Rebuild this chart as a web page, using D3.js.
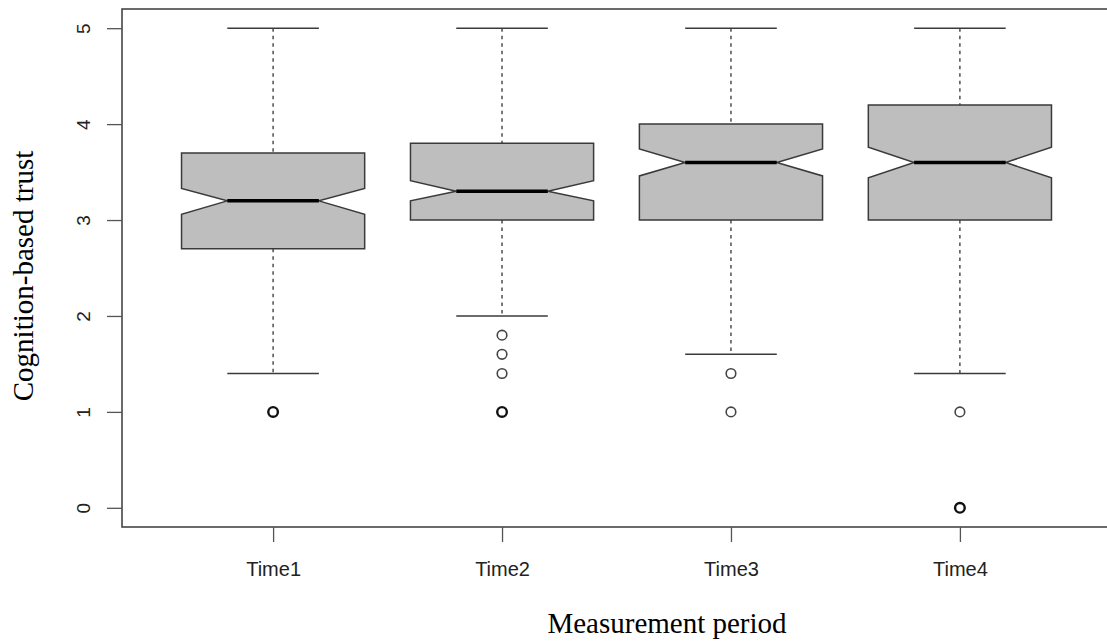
<!DOCTYPE html>
<html>
<head>
<meta charset="utf-8">
<script src="https://cdn.jsdelivr.net/npm/d3@7/dist/d3.min.js"></script>
<style>
  html, body { margin: 0; padding: 0; background: #fff; }
  svg { display: block; }
</style>
</head>
<body>
<svg id="chart" width="1107" height="643"></svg>
<script>
const categories = ["Time1", "Time2", "Time3", "Time4"];
const q1 = [2.7, 3.0, 3.0, 3.0];
const medians = [3.2, 3.3, 3.6, 3.6];
const q3 = [3.7, 3.8, 4.0, 4.2];
const notchLow = [3.06, 3.20, 3.46, 3.44];
const notchHigh = [3.33, 3.41, 3.74, 3.76];
const whiskerLow = [1.4, 2.0, 1.6, 1.4];
const whiskerHigh = [5, 5, 5, 5];
const outlierValues = [[1], [1.8, 1.6, 1.4, 1], [1.4, 1], [1, 0]];
const outlierCounts = [[3], [1, 1, 1, 3], [1, 1], [1, 3]];
const yTicks = [0, 1, 2, 3, 4, 5];

const svg = d3.select("#chart");
const x = d3.scaleLinear().domain([0.34, 4.66]).range([122, 1111]);
const y = d3.scaleLinear().domain([-0.2, 5.2]).range([527, 9]);
const lineCol = "#3a3a3a";

// plot frame
svg.append("rect")
  .attr("x", x(0.34)).attr("y", y(5.2))
  .attr("width", x(4.66) - x(0.34)).attr("height", y(-0.2) - y(5.2))
  .attr("fill", "none").attr("stroke", lineCol).attr("stroke-width", 1.5);

// y axis
const yAxis = d3.axisLeft(y).tickValues(yTicks).tickSize(15).tickFormat(d3.format("d"));
const gy = svg.append("g").attr("transform", `translate(${x(0.34)},0)`).call(yAxis);
gy.select(".domain").remove();
gy.selectAll(".tick line").attr("stroke", "#555").attr("stroke-width", 1.3);
gy.selectAll(".tick text")
  .attr("font-family", "Liberation Sans, Arial, sans-serif")
  .attr("font-size", 19).attr("fill", "#222")
  .attr("text-anchor", "middle")
  .attr("x", null)
  .attr("transform", "translate(-39,0) rotate(-90)")
  .attr("dy", "0.35em");

// x axis
const xAxis = d3.axisBottom(x).tickValues([1, 2, 3, 4]).tickSize(15).tickPadding(20)
  .tickFormat((d, i) => categories[i]);
const gx = svg.append("g").attr("transform", `translate(0,${y(-0.2)})`).call(xAxis);
gx.select(".domain").remove();
gx.selectAll(".tick line").attr("stroke", "#555").attr("stroke-width", 1.3);
gx.selectAll(".tick text")
  .attr("font-family", "Liberation Sans, Arial, sans-serif")
  .attr("font-size", 20).attr("fill", "#222");

// boxes
categories.forEach((c, i) => {
  const xc = x(i + 1);
  const hw = (x(1.4) - x(1)); // half of boxwex 0.8
  const g = svg.append("g");
  // whiskers (dashed)
  g.append("line").attr("x1", xc).attr("x2", xc).attr("y1", y(whiskerHigh[i])).attr("y2", y(q3[i]))
    .attr("stroke", "#333").attr("stroke-width", 1.3).attr("stroke-dasharray", "3.5,4");
  g.append("line").attr("x1", xc).attr("x2", xc).attr("y1", y(q1[i])).attr("y2", y(whiskerLow[i]))
    .attr("stroke", "#333").attr("stroke-width", 1.3).attr("stroke-dasharray", "3.5,4");
  // caps
  [whiskerHigh[i], whiskerLow[i]].forEach(v => {
    g.append("line").attr("x1", xc - hw / 2).attr("x2", xc + hw / 2).attr("y1", y(v)).attr("y2", y(v))
      .attr("stroke", lineCol).attr("stroke-width", 1.5);
  });
  // notched box
  const pts = [
    [xc - hw, y(q3[i])], [xc + hw, y(q3[i])], [xc + hw, y(notchHigh[i])],
    [xc + hw / 2, y(medians[i])], [xc + hw, y(notchLow[i])], [xc + hw, y(q1[i])],
    [xc - hw, y(q1[i])], [xc - hw, y(notchLow[i])], [xc - hw / 2, y(medians[i])],
    [xc - hw, y(notchHigh[i])]
  ];
  g.append("path").attr("d", d3.line()(pts) + "Z")
    .attr("fill", "#bebebe").attr("stroke", lineCol).attr("stroke-width", 1.5)
    .attr("stroke-linejoin", "miter");
  // median
  g.append("line").attr("x1", xc - hw / 2).attr("x2", xc + hw / 2)
    .attr("y1", y(medians[i])).attr("y2", y(medians[i]))
    .attr("stroke", "#000").attr("stroke-width", 3.5);
  // outliers
  outlierValues[i].forEach((v, j) => {
    const bold = outlierCounts[i][j] > 1;
    g.append("circle").attr("cx", xc).attr("cy", y(v)).attr("r", 4.8)
      .attr("fill", "none").attr("stroke", bold ? "#111" : "#444")
      .attr("stroke-width", bold ? 2.4 : 1.6);
  });
});

// axis titles
svg.append("text")
  .attr("x", 667).attr("y", 633)
  .attr("text-anchor", "middle")
  .attr("font-family", "Liberation Serif, Times New Roman, serif")
  .attr("font-size", 29).attr("fill", "#000")
  .text("Measurement period");
svg.append("text")
  .attr("transform", "translate(33,276) rotate(-90)")
  .attr("text-anchor", "middle")
  .attr("font-family", "Liberation Serif, Times New Roman, serif")
  .attr("font-size", 29).attr("fill", "#000")
  .text("Cognition-based trust");
</script>
</body>
</html>
